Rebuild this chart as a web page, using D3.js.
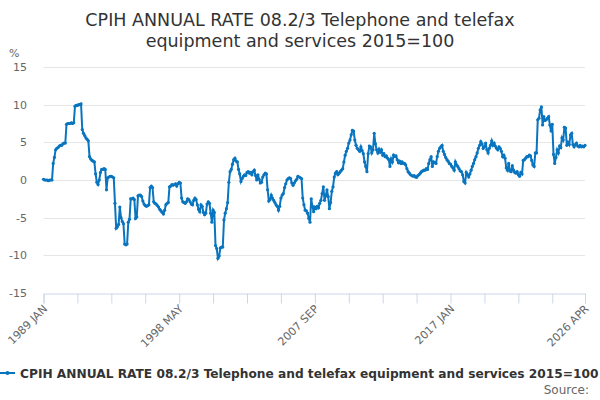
<!DOCTYPE html>
<html>
<head>
<meta charset="utf-8">
<script src="https://cdn.jsdelivr.net/npm/d3@7"></script>
<style>
  body { margin: 0; background: #fff; }
  svg { font-family: "DejaVu Sans", sans-serif; }
</style>
</head>
<body>
<div id="chart"></div>
<script>
// monthly series, 1989 JAN .. 2026 APR
var startYear = 1989;
var monthNames = ["JAN","FEB","MAR","APR","MAY","JUN","JUL","AUG","SEP","OCT","NOV","DEC"];
var yTicks = [-15, -10, -5, 0, 5, 10, 15];
var tickStep = 28;     // months between axis ticks
var labelStep = 112;   // months between axis labels

var rate = [
  0.1, 0.0, 0.0, 0.0, -0.1, 0.0, 0.0, 0.0, 2.2, 3.0, 4.0, 4.2,
  4.3, 4.5, 4.6, 4.6, 4.8, 4.9, 4.9, 7.4, 7.5, 7.5, 7.5, 7.6,
  7.5, 7.6, 9.8, 9.9, 9.9, 10.0, 10.0, 10.1, 6.7, 6.2, 5.9, 5.6,
  5.4, 5.2, 3.1, 2.8, 2.6, 2.5, 2.4, 0.8, -0.3, -0.6, 0.0, 1.0,
  1.4, 1.4, 1.5, 1.4, -1.3, 0.3, 0.4, 0.5, 0.5, 0.4, 0.3, -3.1,
  -6.4, -6.2, -5.9, -3.6, -5.0, -5.5, -5.8, -8.5, -8.6, -8.5, -5.6, -5.2,
  -2.5, -2.5, -2.4, -2.6, -5.1, -4.9, -2.1, -2.0, -2.0, -2.2, -2.8, -3.2,
  -3.4, -3.5, -3.4, -3.3, -1.0, -0.8, -1.0, -2.9, -3.1, -3.2, -3.4, -3.6,
  -3.9, -4.1, -4.3, -4.5, -4.0, -3.3, -3.1, -3.0, -0.9, -0.8, -0.6, -0.7,
  -0.6, -0.5, -0.8, -0.5, -0.3, -0.4, -2.4, -2.9, -3.0, -3.1, -2.9, -2.5,
  -2.6, -2.9, -3.2, -3.3, -2.7, -2.4, -2.6, -3.3, -3.9, -4.2, -3.3, -3.5,
  -4.3, -4.6, -4.4, -3.2, -2.9, -3.1, -4.4, -5.6, -4.0, -4.3, -8.7, -9.1,
  -10.4, -10.1, -9.0, -8.9, -8.9, -5.3, -4.4, -3.8, -3.0, -0.3, 1.1, 1.4,
  2.1, 2.7, 2.9, 2.5, 2.4, 1.4, 0.8, -0.2, 0.2, 0.5, 0.7, 0.6,
  1.0, 1.1, 0.9, 1.0, 0.7, 1.1, 1.3, 0.6, 0.0, 0.7, 0.1, -0.4,
  -0.3, 0.4, 0.7, 0.9, 0.8, -1.3, -2.8, -2.6, -2.0, -2.4, -2.7, -3.0,
  -3.3, -3.5, -4.0, -3.5, -2.4, -2.0, -1.8, -1.0, -0.5, 0.0, 0.2, 0.3,
  0.2, -0.4, -0.7, -0.4, -0.1, 0.1, 0.5, 0.4, 0.3, 0.2, -2.4, -3.3,
  -4.0, -4.1, -4.4, -5.1, -5.6, -2.5, -3.5, -4.2, -3.6, -3.8, -3.5, -3.7,
  -3.1, -2.7, -1.8, -0.9, -2.7, -2.1, -1.3, -2.2, -3.8, -3.0, -1.5, -0.9,
  0.4, 0.9, 1.1, 0.7, 0.9, 1.1, 1.3, 1.5, 2.4, 3.3, 3.8, 4.2,
  4.9, 5.3, 6.0, 6.6, 6.5, 5.3, 4.6, 4.2, 4.0, 3.8, 4.4, 3.9,
  3.5, 2.4, 1.8, 1.1, 3.5, 4.5, 4.4, 3.6, 4.0, 6.2, 4.8, 4.0,
  3.6, 4.1, 3.7, 4.0, 3.3, 3.5, 3.1, 3.2, 2.9, 2.7, 1.8, 2.8,
  2.4, 3.3, 3.1, 3.2, 2.7, 2.3, 2.5, 2.2, 2.4, 2.2, 2.2, 2.0,
  1.5, 1.1, 0.9, 0.7, 0.6, 0.5, 0.6, 0.4, 0.35, 0.6, 0.7, 0.9,
  1.1, 1.2, 1.3, 1.3, 1.5, 1.4, 2.2, 2.7, 3.1, 1.8, 2.4, 2.3,
  2.2, 3.1, 3.8, 4.2, 4.4, 4.6, 3.8, 3.4, 3.0, 2.7, 2.5, 2.2,
  2.1, 1.8, 1.6, 1.3, 2.4, 2.0, 1.8, 1.5, 1.2, 1.1, 0.7, -0.2,
  -0.4, 1.0, 0.7, 0.4, 0.8, 1.3, 1.8, 2.2, 2.7, 3.1, 3.6, 4.2,
  4.6, 5.1, 4.8, 4.2, 4.4, 4.9, 4.0, 3.6, 4.2, 4.6, 5.2, 4.6,
  4.9, 4.5, 4.2, 4.0, 4.4, 4.2, 3.8, 3.1, 3.3, 2.9, 1.6, 1.3,
  2.2, 1.2, 1.1, 1.9, 1.3, 1.0, 0.9, 1.1, 0.7, 0.5, 1.0, 0.8,
  2.6, 2.7, 2.9, 3.1, 3.1, 3.3, 3.2, 2.6, 2.0, 1.8, 3.6, 3.6,
  8.0, 8.2, 9.3, 9.7, 7.3, 8.4, 7.9, 8.0, 8.2, 8.4, 7.3, 6.5,
  7.4, 3.4, 2.2, 3.0, 4.0, 3.6, 4.5, 4.3, 5.6, 5.3, 7.0, 6.9,
  4.6, 5.0, 4.7, 6.0, 6.2, 4.7, 4.4, 4.7, 4.9, 4.5, 4.4, 4.6,
  4.4, 4.5, 4.4, 4.6
];

var categories = rate.map(function(v, i) {
  return (startYear + Math.floor(i / 12)) + " " + monthNames[i % 12];
});

var seriesName = "CPIH ANNUAL RATE 08.2/3 Telephone and telefax equipment and services 2015=100";
var lineColor = "#0a75bf";

var width = 600, height = 400;
var plotLeft = 43.5, plotRight = 585, plotTop = 67, plotBottom = 293;

var svg = d3.select("#chart").append("svg")
  .attr("width", width)
  .attr("height", height);

var x = d3.scaleLinear().domain([0, rate.length - 1]).range([plotLeft, plotRight]);
var y = d3.scaleLinear().domain([-15, 15]).range([plotBottom, plotTop]);

// title
var title = svg.append("text")
  .attr("x", 300)
  .attr("text-anchor", "middle")
  .style("font-size", "17.5px")
  .style("fill", "#333");
title.append("tspan").attr("x", 300).attr("y", 26).text("CPIH ANNUAL RATE 08.2/3 Telephone and telefax");
title.append("tspan").attr("x", 300).attr("y", 47).text("equipment and services 2015=100");

// y unit
svg.append("text")
  .attr("x", 9).attr("y", 57)
  .style("font-size", "11px")
  .style("fill", "#666")
  .text("%");

// grid + y labels
var grid = svg.append("g");
yTicks.forEach(function(t) {
  if (t != -15) {
    grid.append("line")
      .attr("x1", plotLeft).attr("x2", plotRight)
      .attr("y1", Math.round(y(t)) + 0.5).attr("y2", Math.round(y(t)) + 0.5)
      .style("stroke", "#e6e6e6");
  }
  grid.append("text")
    .attr("x", 27).attr("y", y(t) + 4)
    .attr("text-anchor", "end")
    .style("font-size", "11px")
    .style("fill", "#666")
    .text(t);
});

// x axis
var tickIdx = d3.range(0, rate.length - 1, tickStep);
tickIdx.push(rate.length - 1);
var xAxis = d3.axisBottom(x)
  .tickValues(tickIdx)
  .tickSize(10)
  .tickFormat(function(i) {
    return (i % labelStep == 0 || i == rate.length - 1) ? categories[i] : "";
  });
var gx = svg.append("g")
  .attr("transform", "translate(0," + (Math.round(plotBottom) + 0.5) + ")")
  .call(xAxis);
gx.select(".domain").style("stroke", "#ccd6eb");
gx.selectAll(".tick line").style("stroke", "#ccd6eb");
gx.selectAll(".tick text")
  .style("font-size", "11px")
  .style("fill", "#666")
  .style("font-family", "DejaVu Sans, sans-serif")
  .attr("text-anchor", "end")
  .attr("dy", null)
  .attr("y", 0)
  .attr("transform", "translate(4,16) rotate(-45)");

// series
var line = d3.line()
  .x(function(d, i) { return x(i); })
  .y(function(d) { return y(d); });

svg.append("path")
  .datum(rate)
  .attr("d", line)
  .style("fill", "none")
  .style("stroke", lineColor)
  .style("stroke-width", 2);

svg.append("g").selectAll("circle")
  .data(rate)
  .enter().append("circle")
  .attr("cx", function(d, i) { return x(i); })
  .attr("cy", function(d) { return y(d); })
  .attr("r", 1.6)
  .style("fill", lineColor);

// legend
var lg = svg.append("g").attr("transform", "translate(0,373)");
lg.append("line")
  .attr("x1", 0).attr("x2", 15).attr("y1", 0).attr("y2", 0)
  .style("stroke", lineColor).style("stroke-width", 2);
lg.append("circle").attr("cx", 7.5).attr("cy", 0).attr("r", 2).style("fill", lineColor);
lg.append("text")
  .attr("x", 20).attr("y", 4.5)
  .style("font-size", "12.2px")
  .style("font-weight", "bold")
  .style("fill", "#333")
  .text(seriesName);

svg.append("text")
  .attr("x", 589).attr("y", 394)
  .attr("text-anchor", "end")
  .style("font-size", "12px")
  .style("fill", "#666")
  .text("Source:");
</script>
</body>
</html>
